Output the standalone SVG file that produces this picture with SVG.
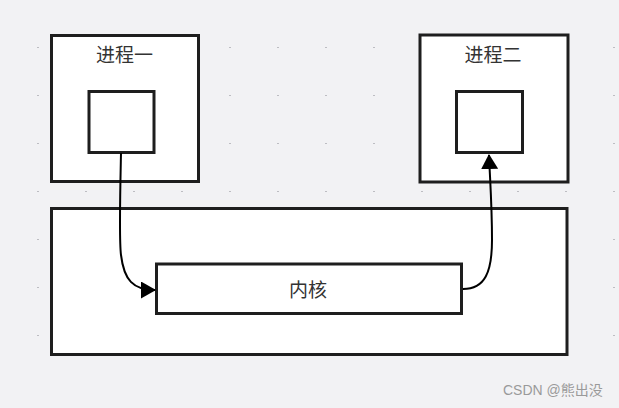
<svg xmlns="http://www.w3.org/2000/svg" width="619" height="408" viewBox="0 0 619 408">
<defs>
<pattern id="dots" x="0" y="0" width="48" height="48" patternUnits="userSpaceOnUse">
<rect x="37" y="47" width="2" height="2" fill="#bdbdc2"/>
</pattern>
<marker id="arr" markerWidth="15" markerHeight="17" refX="14" refY="8.5" orient="auto" markerUnits="userSpaceOnUse" viewBox="0 0 15 17">
<path d="M0,0 L15,8.5 L0,17 Z" fill="#000"/>
</marker>
</defs>
<style>
.box{fill:#fff;stroke:#1e1e1e;stroke-width:3}
.lbl{font-family:"Noto Sans CJK SC","Liberation Sans",sans-serif;font-size:19px;fill:#333;text-anchor:middle}
.edge{fill:none;stroke:#000;stroke-width:2}
</style>
<rect width="619" height="408" fill="#f2f2f4"/>
<rect width="619" height="408" fill="url(#dots)" transform="translate(0,-48)"/>
<rect y="360" width="619" height="48" fill="url(#dots)" transform="translate(0,-48)"/>
<g id="p1">
<rect class="box" x="51.5" y="35.5" width="147" height="146"/>
<text class="lbl" x="124.5" y="62">进程一</text>
</g>
<g id="p1inner">
<rect class="box" x="89" y="91.5" width="65" height="61"/>
</g>
<g id="p2">
<rect class="box" x="420" y="35" width="148" height="147"/>
<text class="lbl" x="493" y="62">进程二</text>
</g>
<g id="p2inner">
<rect class="box" x="456.5" y="91.5" width="66" height="61"/>
</g>
<g id="kernelArea">
<rect class="box" x="51.5" y="208.5" width="515.5" height="146"/>
</g>
<g id="kernel">
<rect class="box" x="156.5" y="264" width="305" height="49.5"/>
<text class="lbl" x="308" y="297">内核</text>
</g>
<g id="edges">
<path class="edge" d="M121,153 C120,200 119,240 121,255 C124,280 133,290 155,290" marker-end="url(#arr)"/>
<path class="edge" d="M463,289 C485,289 492,272 492,240 C492,205 490,180 489,155" marker-end="url(#arr)"/>
</g>
<text x="503" y="395" style="font-family:'Liberation Sans','Noto Sans CJK SC',sans-serif;font-size:14px;fill:#9a9a9a">CSDN @熊出没</text>
</svg>
